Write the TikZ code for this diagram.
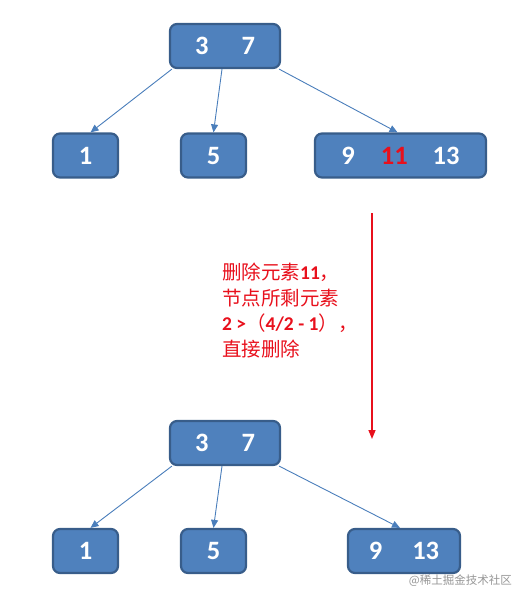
\documentclass[tikz,border=0pt]{standalone}
\usepackage{fontspec}
\setmainfont{Carlito}
\newfontfamily\cjk{Noto Sans CJK SC}
\usetikzlibrary{arrows.meta}
\definecolor{boxfill}{RGB}{79,129,189}
\definecolor{boxline}{RGB}{56,93,138}
\definecolor{linkcol}{RGB}{74,126,187}
\definecolor{redtxt}{RGB}{232,16,28}
\definecolor{marktxt}{RGB}{150,150,150}
\begin{document}
\begin{tikzpicture}[x=1pt,y=-1pt,
  keybox/.style={draw=boxline, line width=2.2pt, fill=boxfill, rounded corners=7pt,
    minimum height=44pt, inner sep=0pt, text=white,
    font=\bfseries\fontsize{26.5}{26.5}\selectfont},
  link/.style={draw=linkcol, line width=0.9pt, -{Triangle[length=8pt,width=7pt]}},
  redarrow/.style={draw=redtxt, line width=1.5pt, -{Triangle[length=9pt,width=7pt]}}
]
\useasboundingbox (0,0) rectangle (520,604);

% top tree
\node[keybox, minimum width=110pt] (r1) at (225,46) {3\hspace{33pt}7};
\node[keybox, minimum width=65pt] (a1) at (85.5,155.5) {1};
\node[keybox, minimum width=65pt] (b1) at (213.5,155.5) {5};
\node[keybox, minimum width=171pt] (c1) at (400.5,155.5) {9\hspace{26pt}\textcolor{redtxt}{11}\hspace{25pt}13};

\draw[link] ([xshift=3pt]r1.south west) -- ([xshift=5pt]a1.north);
\draw[link] ([xshift=-3pt]r1.south) -- (b1.north);
\draw[link] ([xshift=-2pt]r1.south east) -- ([xshift=-3pt]c1.north);

% red arrow and text
\coordinate (s) at (372,213);
\coordinate (e) at (372,439);
\draw[redarrow] (s) -- (e);
\node[anchor=north west, align=left, inner sep=0pt, text=redtxt,
  font=\fontsize{19.5}{25.5}\selectfont] (note) at (222,263)
  {{\cjk 删除元素}\textbf{11}{\cjk ，}\\
   {\cjk 节点所剩元素}\\
   \textbf{2 >}{\cjk （}\textbf{4/2 - 1}{\cjk ），}\\
   {\cjk 直接删除}};

% bottom tree
\node[keybox, minimum width=110pt] (r2) at (225,443) {3\hspace{33pt}7};
\node[keybox, minimum width=65pt] (a2) at (85.5,551) {1};
\node[keybox, minimum width=65pt] (b2) at (213.5,551) {5};
\node[keybox, minimum width=112pt] (c2) at (404,551) {9\hspace{30pt}13};

\draw[link] ([xshift=3pt]r2.south west) -- ([xshift=5pt]a2.north);
\draw[link] ([xshift=-3pt]r2.south) -- (b2.north);
\draw[link] ([xshift=-2pt]r2.south east) -- ([xshift=-4pt]c2.north);

% watermark
\node[anchor=east, inner sep=0pt, text=marktxt, font=\cjk\fontsize{11.5}{12}\selectfont] (mark) at (512,581) {@稀土掘金技术社区};
\end{tikzpicture}
\end{document}
